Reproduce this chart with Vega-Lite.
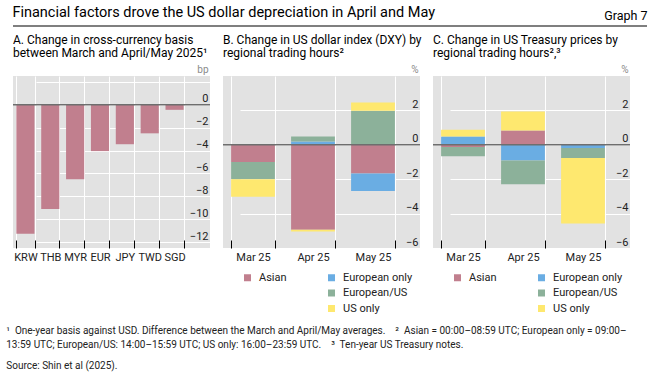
{
  "$schema": "https://vega.github.io/schema/vega-lite/v6.json",
  "padding": {"left": 6, "top": 4, "right": 6, "bottom": 2},
  "background": "white",
  "config": {"font": "Roboto", "view": {"stroke": null}, "axis": {"labelOverlap": false}},
  "title": {"text": "Graph 7", "anchor": "end", "fontSize": 12.5, "fontWeight": "normal", "offset": -18, "color": "#000"},
  "spacing": 7,
  "datasets": {
    "basis": [
      {"currency": "KRW", "value": -11.25},
      {"currency": "THB", "value": -9.1},
      {"currency": "MYR", "value": -6.5},
      {"currency": "EUR", "value": -4.05},
      {"currency": "JPY", "value": -3.45},
      {"currency": "TWD", "value": -2.5},
      {"currency": "SGD", "value": -0.45}
    ],
    "dxy": [
      {"month": "Mar 25", "region": "Asian", "value": -1.0},
      {"month": "Mar 25", "region": "European only", "value": 0.0},
      {"month": "Mar 25", "region": "European/US", "value": -1.0},
      {"month": "Mar 25", "region": "US only", "value": -1.02},
      {"month": "Apr 25", "region": "Asian", "value": -4.94},
      {"month": "Apr 25", "region": "European only", "value": 0.19},
      {"month": "Apr 25", "region": "European/US", "value": 0.29},
      {"month": "Apr 25", "region": "US only", "value": -0.1},
      {"month": "May 25", "region": "Asian", "value": -1.67},
      {"month": "May 25", "region": "European only", "value": -1.02},
      {"month": "May 25", "region": "European/US", "value": 1.98},
      {"month": "May 25", "region": "US only", "value": 0.48}
    ],
    "ust": [
      {"month": "Mar 25", "region": "Asian", "value": -0.13},
      {"month": "Mar 25", "region": "European only", "value": 0.48},
      {"month": "Mar 25", "region": "European/US", "value": -0.53},
      {"month": "Mar 25", "region": "US only", "value": 0.39},
      {"month": "Apr 25", "region": "Asian", "value": 0.83},
      {"month": "Apr 25", "region": "European only", "value": -0.91},
      {"month": "Apr 25", "region": "European/US", "value": -1.39},
      {"month": "Apr 25", "region": "US only", "value": 1.1},
      {"month": "May 25", "region": "Asian", "value": 0.0},
      {"month": "May 25", "region": "European only", "value": -0.19},
      {"month": "May 25", "region": "European/US", "value": -0.58},
      {"month": "May 25", "region": "US only", "value": -3.81}
    ]
  },
  "vconcat": [
    {
      "width": 634,
      "height": 1,
      "view": {"stroke": null},
      "title": {"text": "Financial factors drove the US dollar depreciation in April and May", "anchor": "start", "fontSize": 14.5, "fontWeight": "normal", "offset": 5, "color": "#000"},
      "data": {"values": [{}]},
      "mark": {"type": "rule", "color": "#000", "strokeWidth": 1.2},
      "encoding": {"y": {"datum": 0, "type": "quantitative", "scale": {"domain": [0, 1]}, "axis": null}}
    },
    {
      "spacing": 13,
      "bounds": "flush",
      "resolve": {"scale": {"color": "independent"}, "legend": {"color": "independent"}},
      "title": {
        "text": [
          "¹\u00a0 One-year basis against USD. Difference between the March and April/May averages.\u00a0\u00a0\u00a0 ²\u00a0 Asian = 00:00–08:59 UTC; European only = 09:00–",
          "13:59 UTC; European/US: 14:00–15:59 UTC; US only: 16:00–23:59 UTC.\u00a0\u00a0\u00a0 ³\u00a0 Ten-year US Treasury notes."
        ],
        "subtitle": "Source: Shin et al (2025).",
        "orient": "bottom",
        "anchor": "start",
        "fontSize": 10,
        "fontWeight": "normal",
        "lineHeight": 13.5,
        "subtitleFontSize": 10,
        "subtitlePadding": 11,
        "offset": 12,
        "dx": -6,
        "color": "#222",
        "subtitleColor": "#222"
      },
      "hconcat": [
        {
          "width": 197,
          "height": 172,
          "view": {"fill": "#e2e2e2", "stroke": null},
          "title": {"text": ["A. Change in cross-currency basis", "between March and April/May 2025¹"], "anchor": "start", "frame": "group", "fontSize": 12, "fontWeight": "normal", "lineHeight": 13, "offset": 4, "color": "#000"},
          "layer": [
            {
              "data": {"name": "basis"},
              "mark": {"type": "bar", "color": "#c17f8e"},
              "encoding": {
                "x": {"field": "currency", "type": "nominal", "sort": null,
                  "scale": {"range": [0, 174], "paddingInner": 0.27, "paddingOuter": 0.135},
                  "axis": {"title": null, "labelAngle": 0, "tickBand": "extent", "grid": true, "gridColor": "#ffffff", "gridWidth": 1, "domain": false, "ticks": true, "tickColor": "#000", "tickSize": 8, "tickWidth": 1, "offset": -8, "labelPadding": 3, "labelFontSize": 11, "labelColor": "#222", "labelOverlap": false, "zindex": 0}},
                "y": {"field": "value", "type": "quantitative",
                  "scale": {"domain": [-12.5, 2.5], "nice": false, "zero": false},
                  "axis": {"orient": "right", "title": "bp", "titleAngle": 0, "titleAlign": "right", "titleBaseline": "alphabetic", "titleX": -2, "titleY": -4, "titleFontSize": 10, "titleFontWeight": "normal", "titleColor": "#8a8a8a", "labelAlign": "right", "labelBaseline": "alphabetic", "labelPadding": -2, "labelOffset": -3, "ticks": false, "tickSize": 0, "domain": false, "grid": true, "gridColor": "#ffffff", "values": [-12, -10, -8, -6, -4, -2, 0, 2], "labelExpr": "datum.value > 0 ? '' : datum.label", "labelFontSize": 11, "labelColor": "#222", "labelOverlap": false, "labelFlush": false, "zindex": 0}}
              }
            },
            {
              "data": {"values": [{}]},
              "mark": {"type": "rule", "color": "#6e6e6e", "strokeWidth": 1.5},
              "encoding": {"y": {"datum": 0, "type": "quantitative",
                  "axis": {"orient": "right", "title": "bp", "titleAngle": 0, "titleAlign": "right", "titleBaseline": "alphabetic", "titleX": -2, "titleY": -4, "titleFontSize": 10, "titleFontWeight": "normal", "titleColor": "#8a8a8a", "labelAlign": "right", "labelBaseline": "alphabetic", "labelPadding": -2, "labelOffset": -3, "ticks": false, "tickSize": 0, "domain": false, "grid": true, "gridColor": "#ffffff", "values": [-12, -10, -8, -6, -4, -2, 0, 2], "labelExpr": "datum.value > 0 ? '' : datum.label", "labelFontSize": 11, "labelColor": "#222", "labelOverlap": false, "labelFlush": false, "zindex": 0}}}
            }
          ]
        },
        {
          "width": 197,
          "height": 172,
          "view": {"fill": "#e2e2e2", "stroke": null},
          "title": {"text": ["B. Change in US dollar index (DXY) by", "regional trading hours²"], "anchor": "start", "frame": "group", "fontSize": 12, "fontWeight": "normal", "lineHeight": 13, "offset": 4, "color": "#000"},
          "layer": [
            {
              "data": {"name": "dxy"},
              "mark": {"type": "bar"},
              "encoding": {
                "x": {"field": "month", "type": "nominal", "sort": null,
                  "scale": {"range": [0, 180], "paddingInner": 0.27, "paddingOuter": 0.135},
                  "axis": {"title": null, "labelAngle": 0, "tickBand": "extent", "grid": true, "gridColor": "#ffffff", "gridWidth": 1, "domain": false, "ticks": true, "tickColor": "#000", "tickSize": 8, "tickWidth": 1, "offset": -8, "labelPadding": 3, "labelFontSize": 11, "labelColor": "#222", "labelOverlap": false, "zindex": 0}},
                "y": {"field": "value", "type": "quantitative",
                  "scale": {"domain": [-6, 4], "nice": false, "zero": false},
                  "axis": {"orient": "right", "title": "%", "titleAngle": 0, "titleAlign": "right", "titleBaseline": "alphabetic", "titleX": -2, "titleY": -4, "titleFontSize": 10, "titleFontWeight": "normal", "titleColor": "#8a8a8a", "labelAlign": "right", "labelBaseline": "alphabetic", "labelPadding": -2, "labelOffset": -3, "ticks": false, "tickSize": 0, "domain": false, "grid": true, "gridColor": "#ffffff", "values": [-6, -4, -2, 0, 2], "labelFontSize": 11, "labelColor": "#222", "labelOverlap": false, "labelFlush": false, "zindex": 0}},
                "color": {"field": "region", "type": "nominal",
                  "scale": {"domain": ["Asian", " ", "  ", "European only", "European/US", "US only"], "range": ["#c17f8e", "rgba(0,0,0,0)", "rgba(0,0,0,0)", "#6aade3", "#8cb19a", "#fee86f"]},
                  "legend": {"orient": "none", "legendX": 19, "legendY": 196, "columns": 2, "columnPadding": 39, "rowPadding": 3.5, "symbolType": "square", "symbolSize": 49, "symbolStrokeWidth": 0, "labelFontSize": 11, "labelColor": "#222", "labelOffset": 6, "title": null}},
                "order": {"field": "region", "type": "nominal", "sort": "ascending"}
              }
            },
            {
              "data": {"values": [{}]},
              "mark": {"type": "rule", "color": "#6e6e6e", "strokeWidth": 1.5},
              "encoding": {"y": {"datum": 0, "type": "quantitative"}}
            }
          ]
        },
        {
          "width": 197,
          "height": 172,
          "view": {"fill": "#e2e2e2", "stroke": null},
          "title": {"text": ["C. Change in US Treasury prices by", "regional trading hours²,³"], "anchor": "start", "frame": "group", "fontSize": 12, "fontWeight": "normal", "lineHeight": 13, "offset": 4, "color": "#000"},
          "layer": [
            {
              "data": {"name": "ust"},
              "mark": {"type": "bar"},
              "encoding": {
                "x": {"field": "month", "type": "nominal", "sort": null,
                  "scale": {"range": [0, 180], "paddingInner": 0.27, "paddingOuter": 0.135},
                  "axis": {"title": null, "labelAngle": 0, "tickBand": "extent", "grid": true, "gridColor": "#ffffff", "gridWidth": 1, "domain": false, "ticks": true, "tickColor": "#000", "tickSize": 8, "tickWidth": 1, "offset": -8, "labelPadding": 3, "labelFontSize": 11, "labelColor": "#222", "labelOverlap": false, "zindex": 0}},
                "y": {"field": "value", "type": "quantitative",
                  "scale": {"domain": [-6, 4], "nice": false, "zero": false},
                  "axis": {"orient": "right", "title": "%", "titleAngle": 0, "titleAlign": "right", "titleBaseline": "alphabetic", "titleX": -2, "titleY": -4, "titleFontSize": 10, "titleFontWeight": "normal", "titleColor": "#8a8a8a", "labelAlign": "right", "labelBaseline": "alphabetic", "labelPadding": -2, "labelOffset": -3, "ticks": false, "tickSize": 0, "domain": false, "grid": true, "gridColor": "#ffffff", "values": [-6, -4, -2, 0, 2], "labelFontSize": 11, "labelColor": "#222", "labelOverlap": false, "labelFlush": false, "zindex": 0}},
                "color": {"field": "region", "type": "nominal",
                  "scale": {"domain": ["Asian", " ", "  ", "European only", "European/US", "US only"], "range": ["#c17f8e", "rgba(0,0,0,0)", "rgba(0,0,0,0)", "#6aade3", "#8cb19a", "#fee86f"]},
                  "legend": {"orient": "none", "legendX": 19, "legendY": 196, "columns": 2, "columnPadding": 39, "rowPadding": 3.5, "symbolType": "square", "symbolSize": 49, "symbolStrokeWidth": 0, "labelFontSize": 11, "labelColor": "#222", "labelOffset": 6, "title": null}},
                "order": {"field": "region", "type": "nominal", "sort": "ascending"}
              }
            },
            {
              "data": {"values": [{}]},
              "mark": {"type": "rule", "color": "#6e6e6e", "strokeWidth": 1.5},
              "encoding": {"y": {"datum": 0, "type": "quantitative"}}
            }
          ]
        }
      ]
    }
  ]
}
